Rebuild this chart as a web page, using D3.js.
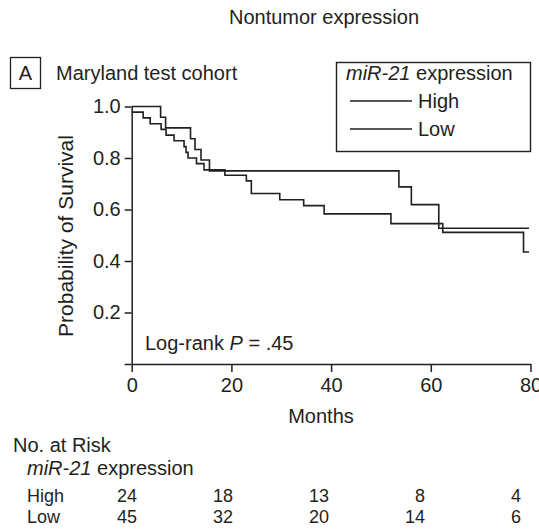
<!DOCTYPE html>
<html>
<head>
<meta charset="utf-8">
<script src="https://cdn.jsdelivr.net/npm/d3@7"></script>
<style>
    html, body { margin: 0; padding: 0; background: #fff; }
    svg text { font-family: "Liberation Sans", Arial, Helvetica, sans-serif; fill: #231f20; }
</style>
</head>
<body>
<script>
// Kaplan-Meier steps (months, survival)
const highMonths = [0, 5.8, 6.8, 11.8, 12.7, 13.9, 15.6, 53.6, 56.1, 61.6, 79.7];
const highSurv = [1.0, 0.958, 0.917, 0.875, 0.833, 0.792, 0.75, 0.688, 0.619, 0.527, 0.527];
const lowMonths = [0, 2.3, 3.7, 5.9, 6.9, 8.5, 10.5, 10.9, 11.3, 13.0, 14.5, 18.7, 23.0, 24.0, 29.7, 34.5, 38.6, 52.0, 62.4, 78.6, 79.7];
const lowSurv = [0.978, 0.956, 0.933, 0.911, 0.889, 0.867, 0.844, 0.822, 0.8, 0.778, 0.754, 0.733, 0.711, 0.662, 0.638, 0.615, 0.583, 0.545, 0.511, 0.435, 0.435];

// axis ticks
const xTicks = [0, 20, 40, 60, 80];
const yTicks = [0, 0.2, 0.4, 0.6, 0.8, 1.0];

// number at risk table
const riskMonths = [0, 20, 40, 60, 80];
const riskHigh = [24, 18, 13, 8, 4];
const riskLow = [45, 32, 20, 14, 6];

const ink = '#231f20';
const fontSize = 20;

/**
 * set up the svg
 */
const initSVG = () => {
    let width = 539,
        height = 529;
    let svg = d3.select('body')
        .append('svg')
        .attr('width', width)
        .attr('height', height);
    svg.append('rect')
        .attr('width', width)
        .attr('height', height)
        .attr('fill', '#fff');
    return svg;
};

/**
 * draw the survival plot
 */
const renderChart = (svg) => {
    let x = d3.scaleLinear().domain([0, 80]).range([131.7, 530.5]);
    let y = d3.scaleLinear().domain([0, 1]).range([364, 106.5]);

    // axes
    let xAxis = svg.append('g')
        .attr('transform', `translate(0,${y(0)})`)
        .call(d3.axisBottom(x).tickValues(xTicks).tickSize(8).tickSizeOuter(0).tickPadding(6).tickFormat(d3.format('d')));
    let yAxis = svg.append('g')
        .attr('transform', `translate(${x(0)},0)`)
        .call(d3.axisLeft(y).tickValues(yTicks).tickSize(7).tickSizeOuter(0).tickPadding(4)
            .tickFormat(d => d === 0 ? '' : d3.format('.1f')(d)));
    [xAxis, yAxis].forEach(g => {
        g.selectAll('path, line').attr('stroke', ink).attr('stroke-width', 1.5);
        g.selectAll('text')
            .style('font-size', fontSize + 'px')
            .attr('fill', ink);
    });

    // curves
    let line = d3.line()
        .x(d => x(d[0]))
        .y(d => y(d[1]))
        .curve(d3.curveStepAfter);
    let series = [
        d3.zip(highMonths, highSurv),
        d3.zip(lowMonths, lowSurv)
    ];
    svg.selectAll('path.km')
        .data(series)
        .enter()
        .append('path')
        .attr('class', 'km')
        .attr('d', line)
        .attr('fill', 'none')
        .attr('stroke', ink)
        .attr('stroke-width', 1.6);

    // titles
    svg.append('text')
        .attr('x', 324).attr('y', 24)
        .attr('text-anchor', 'middle')
        .style('font-size', fontSize + 'px')
        .text('Nontumor expression');
    svg.append('rect')
        .attr('x', 10.5).attr('y', 57.5)
        .attr('width', 30).attr('height', 31)
        .attr('fill', 'none').attr('stroke', ink).attr('stroke-width', 1.3);
    svg.append('text')
        .attr('x', 25.5).attr('y', 80)
        .attr('text-anchor', 'middle')
        .style('font-size', fontSize + 'px')
        .text('A');
    svg.append('text')
        .attr('x', 56).attr('y', 80)
        .style('font-size', fontSize + 'px')
        .text('Maryland test cohort');

    // y label
    svg.append('text')
        .attr('transform', 'translate(73,236) rotate(-90)')
        .attr('text-anchor', 'middle')
        .style('font-size', '21px')
        .text('Probability of Survival');
    // x label
    svg.append('text')
        .attr('x', 321).attr('y', 423)
        .attr('text-anchor', 'middle')
        .style('font-size', fontSize + 'px')
        .text('Months');

    // log-rank
    let lr = svg.append('text')
        .attr('x', 145).attr('y', 350)
        .style('font-size', fontSize + 'px');
    lr.append('tspan').text('Log-rank ');
    lr.append('tspan').attr('font-style', 'italic').text('P');
    lr.append('tspan').text(' = .45');

    // legend
    svg.append('rect')
        .attr('x', 336.5).attr('y', 62.5)
        .attr('width', 194).attr('height', 89)
        .attr('fill', 'none').attr('stroke', ink).attr('stroke-width', 1.4);
    let lt = svg.append('text')
        .attr('x', 346).attr('y', 80)
        .style('font-size', fontSize + 'px');
    lt.append('tspan').attr('font-style', 'italic').text('miR-21');
    lt.append('tspan').text(' expression');
    ['High', 'Low'].forEach((name, i) => {
        let ly = 101 + i * 28;
        svg.append('line')
            .attr('x1', 350).attr('x2', 412)
            .attr('y1', ly).attr('y2', ly)
            .attr('stroke', ink).attr('stroke-width', 1.5);
        svg.append('text')
            .attr('x', 418).attr('y', ly + 7)
            .style('font-size', fontSize + 'px')
            .text(name);
    });

    // number at risk
    let rx = d3.scaleLinear().domain([0, 80]).range([137, 521]);
    svg.append('text')
        .attr('x', 13).attr('y', 452)
        .style('font-size', fontSize + 'px')
        .text('No. at Risk');
    let rt = svg.append('text')
        .attr('x', 27).attr('y', 475)
        .style('font-size', fontSize + 'px');
    rt.append('tspan').attr('font-style', 'italic').text('miR-21');
    rt.append('tspan').text(' expression');
    [['High', riskHigh, 502], ['Low', riskLow, 522.5]].forEach(row => {
        svg.append('text')
            .attr('x', 27).attr('y', row[2])
            .style('font-size', '18px')
            .text(row[0]);
        svg.selectAll(null)
            .data(row[1])
            .enter()
            .append('text')
            .attr('x', (d, i) => rx(riskMonths[i]))
            .attr('y', row[2])
            .attr('text-anchor', 'end')
            .style('font-size', '18px')
            .text(d => d);
    });
};

let svg = initSVG();
renderChart(svg);
</script>
</body>
</html>
